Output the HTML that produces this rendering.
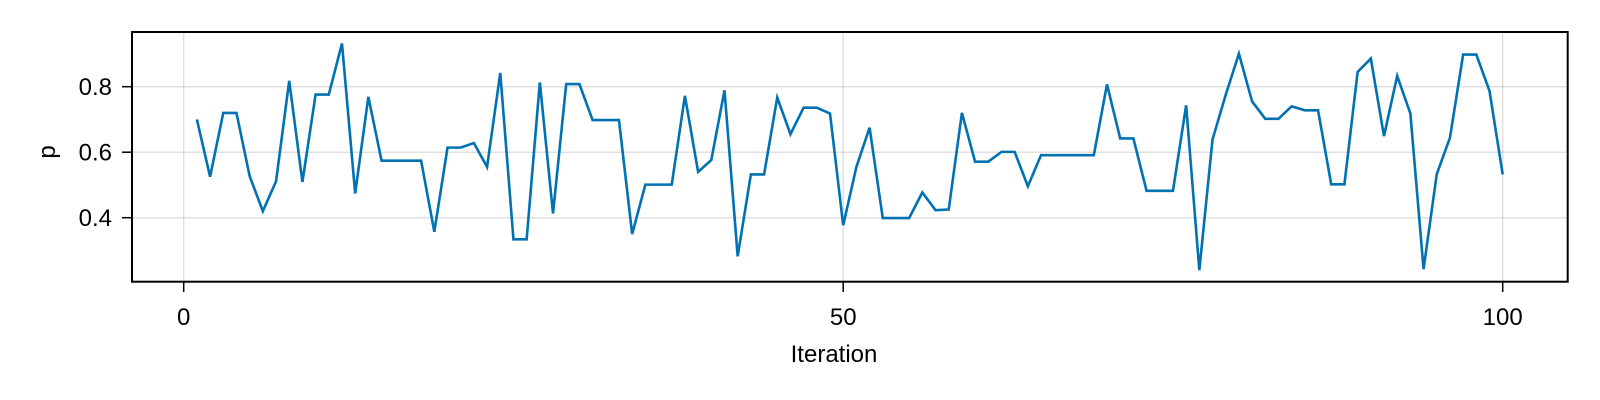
<!DOCTYPE html>
<html><head><meta charset="utf-8"><style>
html,body{margin:0;padding:0;background:#fff;}
svg{display:block;font-family:"Liberation Sans",Arial,sans-serif;}
</style></head><body>
<svg id="chart" width="1600" height="400" viewBox="0 0 1600 400" xmlns="http://www.w3.org/2000/svg">
<rect x="0" y="0" width="1600" height="400" fill="#fff"/>
<g id="grid"></g>
<g id="series"></g>
<rect x="132" y="32" width="1435.7" height="249.7" fill="none" stroke="#000" stroke-width="2"/>
<g id="axes"></g>
<text x="834" y="362" font-size="24" text-anchor="middle">Iteration</text>
<text transform="translate(55,152) rotate(-90)" font-size="24" text-anchor="middle">p</text>
</svg>
<script>
const iterations = Array.from({length:100},(_,i)=>i+1);
const pValues = [0.700,0.525,0.720,0.720,0.527,0.420,0.511,0.818,0.509,0.776,
0.776,0.932,0.474,0.769,0.574,0.574,0.574,0.574,0.357,0.614,
0.614,0.628,0.555,0.842,0.334,0.334,0.813,0.413,0.808,0.808,
0.698,0.698,0.698,0.350,0.501,0.501,0.501,0.772,0.540,0.576,
0.789,0.282,0.532,0.532,0.767,0.655,0.736,0.736,0.718,0.377,
0.555,0.675,0.399,0.399,0.399,0.477,0.423,0.425,0.720,0.571,
0.571,0.601,0.601,0.496,0.591,0.591,0.591,0.591,0.591,0.807,
0.642,0.642,0.482,0.482,0.482,0.743,0.240,0.639,0.775,0.901,
0.755,0.702,0.702,0.740,0.728,0.728,0.502,0.502,0.845,0.886,
0.649,0.833,0.718,0.243,0.533,0.644,0.898,0.898,0.787,0.532];
const xTicks = [0,50,100];
const yTicks = [0.4,0.6,0.8];
const yTickLabels = ["0.4","0.6","0.8"];

const NS="http://www.w3.org/2000/svg";
const X0=183.7, X100=1502.7, YA=217.7, YB=86.7;
const xs=v=>X0+(X100-X0)*v/100;
function yScale(v){return YA+(v-0.4)*(YB-YA)/0.4;}
function mk(tag,attrs,parent){const e=document.createElementNS(NS,tag);for(const k in attrs)e.setAttribute(k,attrs[k]);parent.appendChild(e);return e;}
const grid=document.getElementById('grid'),axes=document.getElementById('axes'),series=document.getElementById('series');
xTicks.forEach(t=>{
  const x=xs(t);
  const g=mk('line',{x1:x,x2:x,y1:32,y2:281.7,stroke:'#000','stroke-opacity':0.12,'stroke-width':1.5},grid);
  
  
  const tk=mk('line',{x1:x,x2:x,y1:281.7,y2:292,stroke:'#000','stroke-width':1.5},axes);
  
  
  const lb=mk('text',{x:x,y:325,'font-size':24,'text-anchor':'middle'},axes);
  lb.textContent=String(t);
  
  
});
yTicks.forEach((t,i)=>{
  const y=yScale(t);
  const g=mk('line',{x1:132,x2:1567.7,y1:y,y2:y,stroke:'#000','stroke-opacity':0.12,'stroke-width':1.5},grid);
  
  
  const tk=mk('line',{x1:122,x2:132,y1:y,y2:y,stroke:'#000','stroke-width':1.5},axes);
  
  
  const lb=mk('text',{x:112,y:y+8.5,'font-size':24,'text-anchor':'end'},axes);
  lb.textContent=yTickLabels[i];
  
  
});
const d=iterations.map((it,i)=>(i?'L':'M')+xs(it).toFixed(2)+','+yScale(pValues[i]).toFixed(2)).join(' ');
const path=mk('path',{d:d,fill:'none',stroke:'#0072b2','stroke-width':2.6,'stroke-linejoin':'miter'},series);


</script>
</body></html>
